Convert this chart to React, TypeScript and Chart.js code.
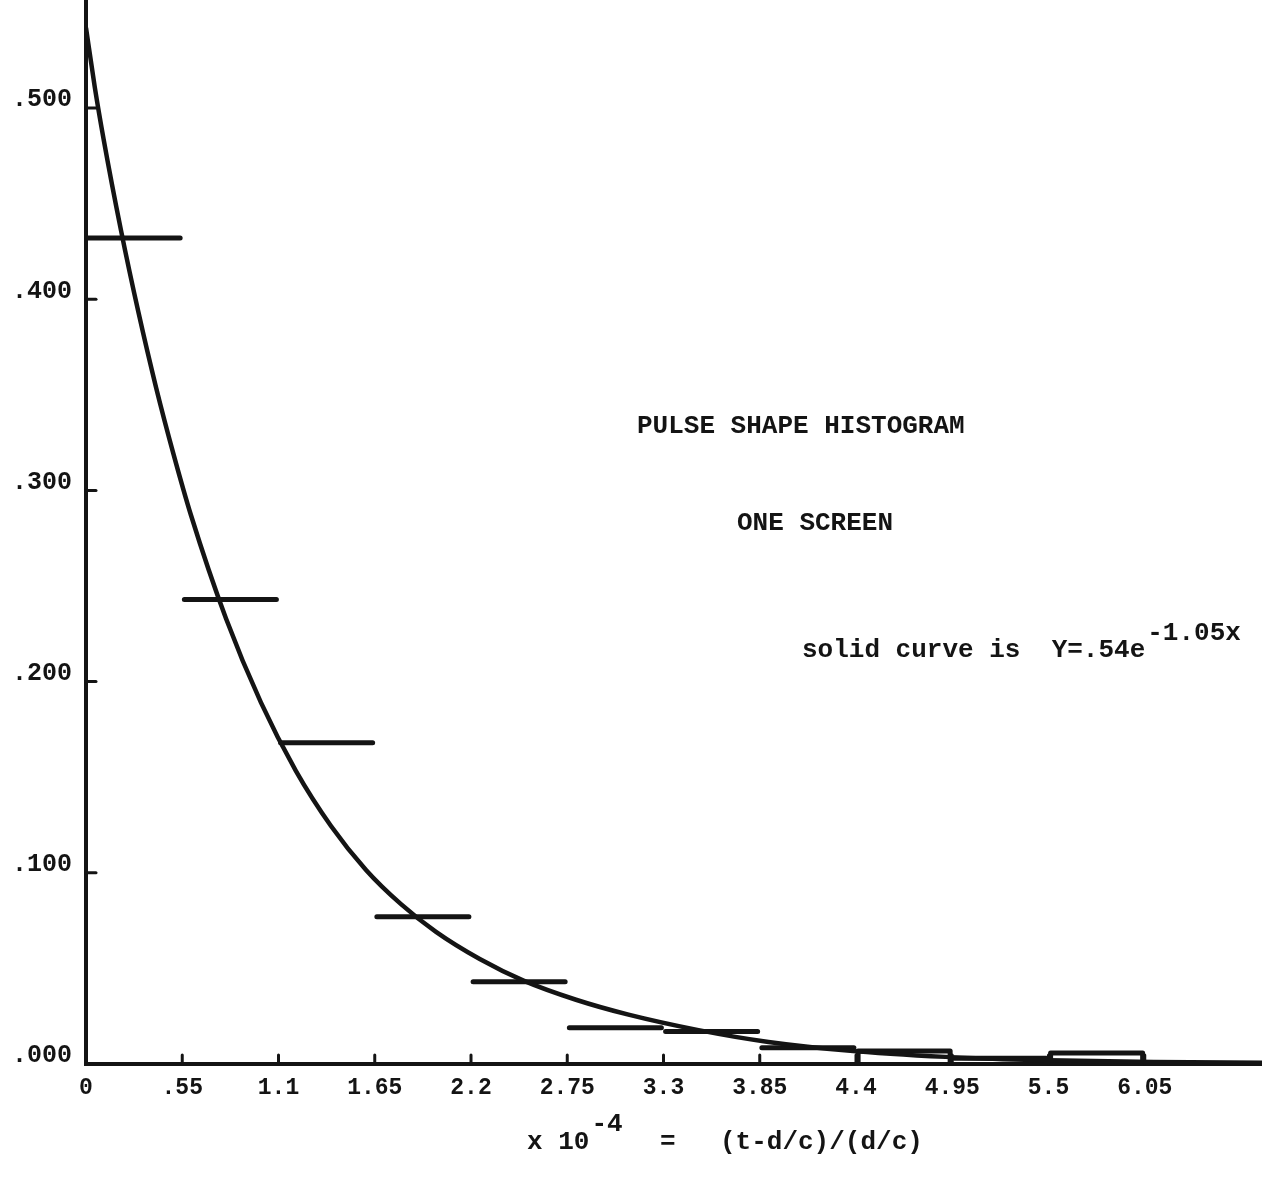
import React, { useEffect, useRef } from "react";
import { Chart, registerables } from "chart.js";

Chart.register(...registerables);

// ---- data ----
const xTickValues = [0, 0.55, 1.1, 1.65, 2.2, 2.75, 3.3, 3.85, 4.4, 4.95, 5.5, 6.05];
const xTickLabels = ["0", ".55", "1.1", "1.65", "2.2", "2.75", "3.3", "3.85", "4.4", "4.95", "5.5", "6.05"];
const yTickValues = [0, 0.1, 0.2, 0.3, 0.4, 0.5];
const yTickLabels = [".000", ".100", ".200", ".300", ".400", ".500"];

const binStarts = [0, 0.55, 1.1, 1.65, 2.2, 2.75, 3.3, 3.85, 4.4, 4.95, 5.5];
const binWidth = 0.55;
const histValues = [0.432, 0.243, 0.168, 0.077, 0.043, 0.019, 0.017, 0.0085, 0.0068, 0.003, 0.0058];
const histBoxed = [false, false, false, false, false, false, false, false, true, false, true];

const curveX = [0, 0.05, 0.1, 0.2, 0.3, 0.4, 0.5, 0.6, 0.8, 1.0, 1.2, 1.4, 1.6, 1.8, 2.0, 2.25, 2.5, 2.8, 3.1, 3.5, 3.9, 4.4, 5.0, 5.5, 6.1, 6.72];
const curveY = [0.542, 0.511, 0.484, 0.436, 0.393, 0.354, 0.319, 0.287, 0.233, 0.189, 0.1532, 0.1245, 0.1015, 0.0836, 0.0691, 0.0549, 0.0436, 0.0336, 0.0258, 0.0177, 0.0115, 0.0066, 0.0033, 0.002, 0.0011, 0.0006];

const titleLine1 = "PULSE SHAPE HISTOGRAM";
const titleLine2 = "ONE SCREEN";
const noteText = "solid curve is  Y=.54e";
const noteExp = "-1.05x";
const xTitleA = "x 10";
const xTitleExp = "-4";
const xTitleB = "=";
const xTitleC = "(t-d/c)/(d/c)";

const INK = "#141414";
const FONT = "'Liberation Mono', 'DejaVu Sans Mono', monospace";

export default function App() {
  const canvasRef = useRef<HTMLCanvasElement | null>(null);

  useEffect(() => {
    document.body.style.margin = "0";
    const canvas = canvasRef.current;
    if (!canvas) return;

    const curvePts = curveX.map((x, i) => ({ x, y: curveY[i] }));
    const histPts: any[] = [];
    const inset = 0.012;
    binStarts.forEach((s, i) => {
      const v = histValues[i];
      const e = s + binWidth;
      if (histBoxed[i]) {
        histPts.push({ x: s + inset, y: 0 }, { x: s + inset, y: v }, { x: e - inset, y: v }, { x: e - inset, y: 0 });
      } else {
        histPts.push({ x: s + inset, y: v }, { x: e - inset, y: v });
      }
      histPts.push({ x: e, y: null });
    });

    const decor = {
      id: "decor",
      afterDraw(chart: any) {
        const ctx = chart.ctx as CanvasRenderingContext2D;
        const xs = chart.scales.x;
        const ys = chart.scales.y;
        const area = chart.chartArea;
        ctx.save();
        ctx.strokeStyle = INK;
        ctx.lineWidth = 3;
        ctx.lineCap = "round";
        // inward tick marks on y axis
        yTickValues.forEach((v) => {
          if (v === 0) return;
          const py = ys.getPixelForValue(v);
          ctx.beginPath();
          ctx.moveTo(area.left, py);
          ctx.lineTo(area.left + 10, py);
          ctx.stroke();
        });
        // upward tick marks on x axis
        xTickValues.forEach((v) => {
          if (v === 0) return;
          const px = xs.getPixelForValue(v);
          ctx.beginPath();
          ctx.moveTo(px, area.bottom);
          ctx.lineTo(px, area.bottom - 9);
          ctx.stroke();
        });
        // annotations
        ctx.fillStyle = INK;
        ctx.textBaseline = "alphabetic";
        ctx.textAlign = "left";
        ctx.font = `bold 26px ${FONT}`;
        ctx.fillText(titleLine1, 637, 433);
        ctx.fillText(titleLine2, 737, 530);
        ctx.fillText(noteText, 802, 657);
        const w = ctx.measureText(noteText).width;
        ctx.fillText(noteExp, 802 + w + 2, 640);
        ctx.fillText(xTitleA, 527, 1149);
        const wa = ctx.measureText(xTitleA).width;
        ctx.fillText(xTitleExp, 527 + wa + 2, 1131);
        ctx.fillText(xTitleB, 660, 1149);
        ctx.fillText(xTitleC, 720, 1149);
        ctx.restore();
      },
    };

    const chart = new Chart(canvas, {
      type: "line",
      data: {
        datasets: [
          {
            data: curvePts as any,
            borderColor: INK,
            borderWidth: 4.5,
            pointRadius: 0,
            cubicInterpolationMode: "monotone",
            fill: false,
          },
          {
            data: histPts as any,
            borderColor: INK,
            borderWidth: 5,
            pointRadius: 0,
            borderCapStyle: "round",
            borderJoinStyle: "round",
            spanGaps: false,
            tension: 0,
            fill: false,
          },
        ],
      },
      options: {
        animation: false,
        responsive: false,
        devicePixelRatio: 1,
        layout: { padding: 0 },
        plugins: { legend: { display: false }, tooltip: { enabled: false }, title: { display: false } },
        scales: {
          x: {
            type: "linear",
            min: 0,
            max: 6.72,
            afterBuildTicks: (s: any) => {
              s.ticks = xTickValues.map((v) => ({ value: v }));
            },
            afterFit: (s: any) => {
              s.height = 119;
              s.paddingLeft = 0;
              s.paddingRight = 0;
            },
            ticks: {
              autoSkip: false,
              maxRotation: 0,
              padding: 10,
              color: INK,
              font: { family: FONT, size: 23, weight: "bold" },
              callback: (v: any) => {
                const i = xTickValues.findIndex((t) => Math.abs(t - Number(v)) < 1e-9);
                return i >= 0 ? xTickLabels[i] : "";
              },
            },
            grid: { display: false, drawTicks: false },
            border: { display: true, color: INK, width: 4 },
          },
          y: {
            type: "linear",
            min: 0,
            max: 0.5565,
            afterBuildTicks: (s: any) => {
              s.ticks = yTickValues.map((v) => ({ value: v }));
            },
            afterFit: (s: any) => {
              s.width = 86;
              s.paddingTop = 0;
              s.paddingBottom = 0;
            },
            ticks: {
              autoSkip: false,
              padding: 14,
              labelOffset: -8,
              color: INK,
              font: { family: FONT, size: 25, weight: "bold" },
              callback: (v: any) => {
                const i = yTickValues.findIndex((t) => Math.abs(t - Number(v)) < 1e-9);
                return i >= 0 ? yTickLabels[i] : "";
              },
            },
            grid: { display: false, drawTicks: false },
            border: { display: true, color: INK, width: 4 },
          },
        },
      },
      plugins: [decor],
    });

    return () => chart.destroy();
  }, []);

  return (
    <div style={{ position: "absolute", left: 0, top: 0, width: 1262, height: 1183, background: "#fff" }}>
      <canvas ref={canvasRef} width={1262} height={1183} style={{ display: "block" }} />
    </div>
  );
}
